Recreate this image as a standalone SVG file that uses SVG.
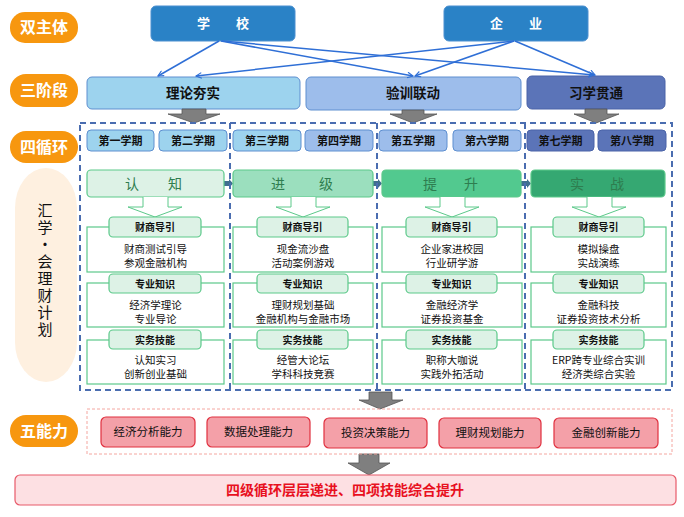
<svg xmlns="http://www.w3.org/2000/svg" width="684" height="517" viewBox="0 0 684 517">
<defs>
<marker id="ah" viewBox="0 0 10 10" refX="9" refY="5" markerWidth="7" markerHeight="7" orient="auto" markerUnits="userSpaceOnUse">
<path d="M1,1 L9,5 L1,9" fill="none" stroke="#2F6FD6" stroke-width="1.6"/>
</marker>
<style>
text{font-family:"Noto Sans CJK SC","Liberation Sans",sans-serif;text-anchor:middle}
.pill{fill:#F7970F}
.pillt{fill:#fff;font-size:16px;font-weight:bold}
.top{fill:#2A82C6;stroke:#4A8FD0;stroke-width:1}
.topt{fill:#fff;font-size:13px;font-weight:bold}
.st{font-size:13.5px;font-weight:bold;fill:#111}
.sem{font-size:11px;font-weight:bold;fill:#111}
.c1{fill:#9DD3EE;stroke:#5E8FD0;stroke-width:1}
.c2{fill:#9DBDEB;stroke:#5E8FD0;stroke-width:1}
.c3{fill:#5B74B8;stroke:#4A63A8;stroke-width:1}
.ph{stroke:#5CC98A;stroke-width:1.2}
.pht{font-size:14px;fill:#2E7D4F}
.cr{fill:#fff;stroke:#5CC98A;stroke-width:1.2}
.lb{fill:#DDF2E6;stroke:#5CC98A;stroke-width:1.2}
.lbt{font-size:10px;font-weight:bold;fill:#111}
.ct{font-size:10.5px;fill:#111}
.ga{fill:#7F7F7F;stroke:#555;stroke-width:0.8}
.ab{fill:#F4A0A8;stroke:#E0303F;stroke-width:1.2}
.abt{font-size:11.5px;fill:#111}
.dash{fill:none;stroke:#4A6DB0;stroke-width:2;stroke-dasharray:6 4}
.conn{stroke:#2F6FD6;stroke-width:1.5;fill:none}
.vt{font-size:15px;fill:#111;writing-mode:vertical-rl;text-orientation:upright;letter-spacing:2px;text-anchor:start}
</style>
</defs>

<g id="labels">
<rect class="pill" x="10" y="12" width="68" height="31" rx="15"/>
<text class="pillt" x="44" y="33">双主体</text>
<rect class="pill" x="10" y="74" width="68" height="33" rx="16"/>
<text class="pillt" x="44" y="96">三阶段</text>
<rect class="pill" x="10" y="131" width="68" height="32" rx="16"/>
<text class="pillt" x="44" y="153">四循环</text>
<rect class="pill" x="10" y="415" width="68" height="32" rx="16"/>
<text class="pillt" x="44" y="437">五能力</text>
<rect x="15" y="168" width="62" height="214" rx="31" ry="40" fill="#FEF0E0"/>
<text class="vt" x="45" y="203">汇学·会理财计划</text>
</g>

<g id="school">
<rect class="top" x="151" y="6" width="144" height="35" rx="5"/>
<text class="topt" x="223" y="28">学　　校</text>
</g>
<g id="enterprise">
<rect class="top" x="444" y="6" width="144" height="35" rx="5"/>
<text class="topt" x="516" y="28">企　　业</text>
</g>

<g id="stage1">
<rect class="c1" x="87" y="77" width="213" height="32" rx="5"/>
<text class="st" x="193" y="98">理论夯实</text>
</g>
<g id="stage2">
<rect class="c2" x="306" y="77" width="215" height="33" rx="5"/>
<text class="st" x="413" y="98">验训联动</text>
</g>
<g id="stage3">
<rect class="c3" x="527" y="76" width="138" height="33" rx="5"/>
<text class="st" x="596" y="98">习学贯通</text>
</g>

<g id="connectors">
<line class="conn" x1="219" y1="41" x2="158" y2="76" marker-end="url(#ah)"/>
<line class="conn" x1="221" y1="41" x2="413" y2="76" marker-end="url(#ah)"/>
<line class="conn" x1="222" y1="41" x2="594" y2="75" marker-end="url(#ah)"/>
<line class="conn" x1="514" y1="41" x2="196" y2="76" marker-end="url(#ah)"/>
<line class="conn" x1="514" y1="41" x2="415" y2="76" marker-end="url(#ah)"/>
<line class="conn" x1="515" y1="41" x2="595" y2="75" marker-end="url(#ah)"/>
<path class="ga" d="M182,109 H206 V114 H220 L194,123 L168,114 H182 Z"/>
<path class="ga" d="M402,110 H424 V114 H437 L413,123 L390,114 H402 Z"/>
<path class="ga" d="M585,109 H607 V114 H619 L596,123 L574,114 H585 Z"/>
<path d="M224,181 H229 V179 L233,183.5 L229,188 V186 H224 Z" fill="#3F6F8F"/>
<path d="M373,181 H378 V179 L382,183.5 L378,188 V186 H373 Z" fill="#3F6F8F"/>
<path d="M521,181 H527 V179 L531,183.5 L527,188 V186 H521 Z" fill="#3F6F8F"/>
<path class="ga" d="M369,392 H392 V400 H403 L380,409 L359,400 H369 Z"/>
<path class="ga" d="M359,454 H379 V463 H390 L369,475 L348,463 H359 Z"/>
</g>

<rect id="cycle-frame" class="dash" x="80" y="123" width="592" height="267"/>
<g id="cycle-dividers">
<line class="dash" x1="230" y1="123" x2="230" y2="390"/>
<line class="dash" x1="377" y1="123" x2="377" y2="390"/>
<line class="dash" x1="525" y1="123" x2="525" y2="390"/>
</g>

<g id="semesters">
<rect class="c1" x="87" y="130" width="67" height="21" rx="4"/><text class="sem" x="120.5" y="144.5">第一学期</text>
<rect class="c1" x="159" y="130" width="68" height="21" rx="4"/><text class="sem" x="193" y="144.5">第二学期</text>
<rect class="c1" x="233" y="130" width="68" height="21" rx="4"/><text class="sem" x="267" y="144.5">第三学期</text>
<rect class="c2" x="305" y="130" width="68" height="21" rx="4"/><text class="sem" x="339" y="144.5">第四学期</text>
<rect class="c2" x="379" y="130" width="68" height="21" rx="4"/><text class="sem" x="413" y="144.5">第五学期</text>
<rect class="c2" x="453" y="130" width="68" height="21" rx="4"/><text class="sem" x="487" y="144.5">第六学期</text>
<rect class="c3" x="527" y="130" width="67" height="21" rx="4"/><text class="sem" x="560.5" y="144.5">第七学期</text>
<rect class="c3" x="598" y="130" width="68" height="21" rx="4"/><text class="sem" x="632" y="144.5">第八学期</text>
</g>

<g id="phase-renzhi">
<rect class="ph" x="87" y="170" width="137" height="27" rx="4" fill="#DDF2E6"/>
<text class="pht" x="132" y="189">认</text><text class="pht" x="175" y="189">知</text>
<path d="M143,197 V207 H128 L155,217 L182,207 H168 V197" fill="#fff" stroke="#5CC98A" stroke-width="1"/>
</g>
<g id="phase-jinji">
<rect class="ph" x="233" y="170" width="140" height="27" rx="4" fill="#9BDFBE"/>
<text class="pht" x="278" y="189">进</text><text class="pht" x="326" y="189">级</text>
<path d="M291,197 V207 H276 L303,217 L330,207 H316 V197" fill="#fff" stroke="#5CC98A" stroke-width="1"/>
</g>
<g id="phase-tisheng">
<rect class="ph" x="382" y="170" width="139" height="27" rx="4" fill="#52C98F"/>
<text class="pht" x="430" y="189">提</text><text class="pht" x="471" y="189">升</text>
<path d="M440,197 V207 H425 L452,217 L479,207 H465 V197" fill="#fff" stroke="#5CC98A" stroke-width="1"/>
</g>
<g id="phase-shizhan">
<rect class="ph" x="531" y="170" width="134" height="27" rx="4" fill="#35A872"/>
<text class="pht" x="577" y="189" fill="#256B43">实</text><text class="pht" x="617" y="189" fill="#256B43">战</text>
<path d="M587,197 V207 H572 L599,217 L626,207 H612 V197" fill="#fff" stroke="#5CC98A" stroke-width="1"/>
</g>

<g id="col1">
<rect class="cr" x="87" y="227" width="137" height="45"/>
<rect class="lb" x="109" y="217" width="92" height="20" rx="4"/><text class="lbt" x="155" y="231">财商导引</text>
<text class="ct" x="155.5" y="253">财商测试引导</text><text class="ct" x="155.5" y="267">参观金融机构</text>
<rect class="cr" x="87" y="283" width="137" height="44"/>
<rect class="lb" x="109" y="274" width="92" height="19" rx="4"/><text class="lbt" x="155" y="287.5">专业知识</text>
<text class="ct" x="155.5" y="309">经济学理论</text><text class="ct" x="155.5" y="323">专业导论</text>
<rect class="cr" x="87" y="340" width="137" height="44"/>
<rect class="lb" x="109" y="330" width="92" height="19" rx="4"/><text class="lbt" x="155" y="343.5">实务技能</text>
<text class="ct" x="155.5" y="364">认知实习</text><text class="ct" x="155.5" y="378">创新创业基础</text>
</g>
<g id="col2">
<rect class="cr" x="233" y="227" width="140" height="45"/>
<rect class="lb" x="257" y="217" width="91" height="20" rx="4"/><text class="lbt" x="302.5" y="231">财商导引</text>
<text class="ct" x="303" y="253">现金流沙盘</text><text class="ct" x="303" y="267">活动案例游戏</text>
<rect class="cr" x="233" y="283" width="140" height="44"/>
<rect class="lb" x="257" y="274" width="91" height="19" rx="4"/><text class="lbt" x="302.5" y="287.5">专业知识</text>
<text class="ct" x="303" y="309">理财规划基础</text><text class="ct" x="303" y="323">金融机构与金融市场</text>
<rect class="cr" x="233" y="340" width="140" height="44"/>
<rect class="lb" x="257" y="330" width="91" height="19" rx="4"/><text class="lbt" x="302.5" y="343.5">实务技能</text>
<text class="ct" x="303" y="364">经管大论坛</text><text class="ct" x="303" y="378">学科科技竞赛</text>
</g>
<g id="col3">
<rect class="cr" x="382" y="227" width="140" height="45"/>
<rect class="lb" x="406" y="217" width="91" height="20" rx="4"/><text class="lbt" x="451.5" y="231">财商导引</text>
<text class="ct" x="452" y="253">企业家进校园</text><text class="ct" x="452" y="267">行业研学游</text>
<rect class="cr" x="382" y="283" width="140" height="44"/>
<rect class="lb" x="406" y="274" width="91" height="19" rx="4"/><text class="lbt" x="451.5" y="287.5">专业知识</text>
<text class="ct" x="452" y="309">金融经济学</text><text class="ct" x="452" y="323">证券投资基金</text>
<rect class="cr" x="382" y="340" width="140" height="44"/>
<rect class="lb" x="406" y="330" width="91" height="19" rx="4"/><text class="lbt" x="451.5" y="343.5">实务技能</text>
<text class="ct" x="452" y="364">职称大咖说</text><text class="ct" x="452" y="378">实践外拓活动</text>
</g>
<g id="col4">
<rect class="cr" x="531" y="227" width="135" height="45"/>
<rect class="lb" x="553" y="217" width="91" height="20" rx="4"/><text class="lbt" x="598.5" y="231">财商导引</text>
<text class="ct" x="598.5" y="253">模拟操盘</text><text class="ct" x="598.5" y="267">实战演练</text>
<rect class="cr" x="531" y="283" width="135" height="44"/>
<rect class="lb" x="553" y="274" width="91" height="19" rx="4"/><text class="lbt" x="598.5" y="287.5">专业知识</text>
<text class="ct" x="598.5" y="309">金融科技</text><text class="ct" x="598.5" y="323">证券投资技术分析</text>
<rect class="cr" x="531" y="340" width="135" height="44"/>
<rect class="lb" x="553" y="330" width="91" height="19" rx="4"/><text class="lbt" x="598.5" y="343.5">实务技能</text>
<text class="ct" x="598.5" y="364">ERP跨专业综合实训</text><text class="ct" x="598.5" y="378">经济类综合实验</text>
</g>

<rect id="ability-frame" x="87" y="409" width="585" height="45" fill="none" stroke="#F4A6A0" stroke-width="1" stroke-dasharray="3 2"/>
<g id="ability1"><rect class="ab" x="101" y="417" width="94" height="30" rx="5"/><text class="abt" x="148" y="436">经济分析能力</text></g>
<g id="ability2"><rect class="ab" x="207" y="417" width="103" height="30" rx="5"/><text class="abt" x="258.5" y="436">数据处理能力</text></g>
<g id="ability3"><rect class="ab" x="324" y="418" width="103" height="30" rx="5"/><text class="abt" x="375.5" y="437">投资决策能力</text></g>
<g id="ability4"><rect class="ab" x="439" y="418" width="102" height="30" rx="5"/><text class="abt" x="490" y="437">理财规划能力</text></g>
<g id="ability5"><rect class="ab" x="554" y="418" width="104" height="30" rx="5"/><text class="abt" x="606" y="437">金融创新能力</text></g>

<g id="summary">
<rect x="15" y="475" width="661" height="30" rx="5" fill="#FDE0E3" stroke="#E85A6A" stroke-width="1.2"/>
<text x="345" y="495" font-size="14" font-weight="bold" fill="#E8101E">四级循环层层递进、四项技能综合提升</text>
</g>
</svg>
